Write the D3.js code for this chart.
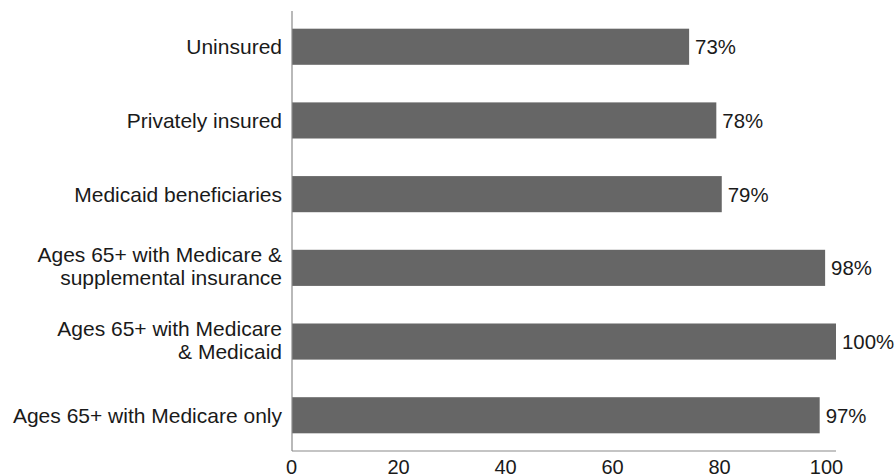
<!DOCTYPE html>
<html>
<head>
<meta charset="utf-8">
<script src="https://cdn.jsdelivr.net/npm/d3@7"></script>
<style>
  html, body { margin: 0; padding: 0; background: #fff; }
  svg { display: block; font-family: "Liberation Sans", Arial, Helvetica, sans-serif; }
</style>
</head>
<body>
<svg id="chart" width="895" height="475"></svg>
<script>
// Share of each coverage group, percent
const categories = [
  ["Uninsured"],
  ["Privately insured"],
  ["Medicaid beneficiaries"],
  ["Ages 65+ with Medicare &", "supplemental insurance"],
  ["Ages 65+ with Medicare", "& Medicaid"],
  ["Ages 65+ with Medicare only"]
];
const values = [73, 78, 79, 98, 100, 97];
const valueLabels = ["73%", "78%", "79%", "98%", "100%", "97%"];
const tickValues = [0, 20, 40, 60, 80, 100];

const svg = d3.select("#chart");
const axisX = 292, axisTop = 11, axisBottom = 451;

const keys = categories.map(c => c.join(" "));

const x = d3.scaleLinear().domain([0, 100]).range([axisX, 836]);
// tick labels sit on a slightly tighter spacing
const xTicks = d3.scaleLinear().domain([0, 100]).range([291, 826]);
const y = d3.scaleBand().domain(keys).range([axisTop, axisBottom])
  .paddingInner(0.51).paddingOuter(0.24);

// bars
svg.append("g").selectAll("rect")
  .data(values)
  .join("rect")
  .attr("x", x(0))
  .attr("y", (d, i) => y(keys[i]))
  .attr("width", d => x(d) - x(0))
  .attr("height", y.bandwidth())
  .attr("fill", "#666666");

// value labels
svg.append("g").selectAll("text")
  .data(values)
  .join("text")
  .attr("x", d => x(d) + 6)
  .attr("y", (d, i) => y(keys[i]) + y.bandwidth() / 2 + 7.5)
  .attr("font-size", 20.4)
  .attr("fill", "#1a1a1a")
  .text((d, i) => valueLabels[i]);

// category labels
const cat = svg.append("g").selectAll("text")
  .data(categories)
  .join("text")
  .attr("text-anchor", "end")
  .attr("font-size", 21)
  .attr("fill", "#1a1a1a");
cat.each(function (lines, i) {
  const c = y(keys[i]) + y.bandwidth() / 2;
  const t = d3.select(this);
  if (lines.length === 1) {
    t.append("tspan").attr("x", axisX - 10).attr("y", c + 7.5).text(lines[0]);
  } else {
    t.append("tspan").attr("x", axisX - 10).attr("y", c - 5.5).text(lines[0]);
    t.append("tspan").attr("x", axisX - 10).attr("y", c + 17.5).text(lines[1]);
  }
});

// axis lines
svg.append("line")
  .attr("x1", axisX).attr("x2", axisX)
  .attr("y1", axisTop).attr("y2", axisBottom)
  .attr("stroke", "#8a8a8a").attr("stroke-width", 1.2);
svg.append("line")
  .attr("x1", x(0)).attr("x2", x(100))
  .attr("y1", axisBottom).attr("y2", axisBottom)
  .attr("stroke", "#8a8a8a").attr("stroke-width", 1.2);

// x tick labels
const xa = svg.append("g")
  .attr("transform", `translate(0,${axisBottom})`)
  .call(d3.axisBottom(xTicks).tickValues(tickValues).tickSize(0).tickPadding(0));
xa.select(".domain").remove();
xa.selectAll("text")
  .attr("font-family", "Liberation Sans, Arial, sans-serif")
  .attr("font-size", 20)
  .attr("fill", "#1a1a1a")
  .attr("dy", null)
  .attr("y", 22.5);
</script>
</body>
</html>
